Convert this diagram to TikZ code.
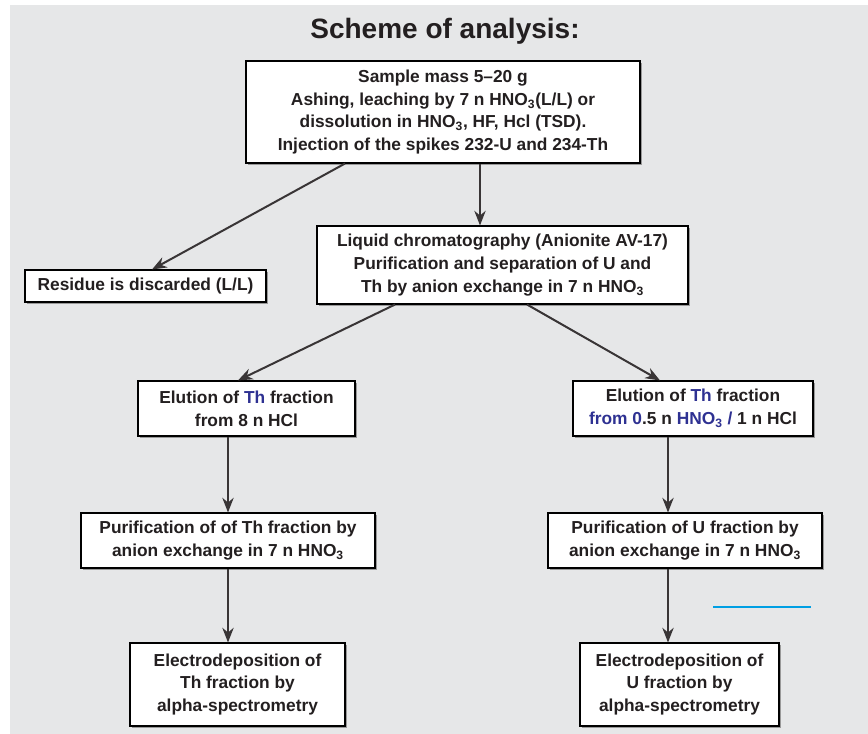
\documentclass[tikz,border=0pt]{standalone}
\usepackage{fontspec}
\setmainfont{Liberation Sans}
\usepackage{tikz}
\usetikzlibrary{arrows.meta,shadows}

\definecolor{bgGray}{HTML}{E6E7E8}
\definecolor{txtDark}{HTML}{231F20}
\definecolor{thBlue}{HTML}{2E3192}
\definecolor{lineBlue}{HTML}{009FE3}

\tikzset{
  box/.style={draw=black, line width=0.8pt, fill=white, inner sep=0pt, align=center,
    text=txtDark, font=\fontsize{13}{17}\selectfont\bfseries,
    drop shadow={shadow xshift=1.2pt, shadow yshift=-1.2pt, fill=gray!80, opacity=1}},
  arr/.style={draw=txtDark!90, line width=1.5pt, -{Stealth[length=11pt,width=8.5pt]}}
}
\newcommand{\thb}[1]{\textcolor{thBlue}{#1}}

\begin{document}
\begin{tikzpicture}[x=0.75pt,y=0.75pt,yscale=-1,xscale=1]
    \useasboundingbox (0,0) rectangle (868,734);
    %Shape: Rectangle (background)
    \fill [bgGray] (10,5) rectangle (868,734);

    % Text Node
    \node (title) at (445,31) [text=txtDark, font=\fontsize{21}{24}\selectfont\bfseries] {Scheme of analysis:};

    %Shape: Boxes
    \node (sample) at (443,112) [box, minimum width=295.5pt, minimum height=76.5pt]
      {Sample mass 5--20 g\\ Ashing, leaching by 7 n HNO\textsubscript{3}(L/L) or\\ dissolution in HNO\textsubscript{3}, HF, Hcl (TSD).\\ Injection of the spikes 232-U and 234-Th};
    \node (residue) at (145.5,286) [box, minimum width=180.75pt, minimum height=24pt]
      {Residue is discarded (L/L)};
    \node (chrom) at (502.5,265) [box, minimum width=278.25pt, minimum height=58.5pt]
      {Liquid chromatography (Anionite AV-17)\\ Purification and separation of U and\\ Th by anion exchange in 7 n HNO\textsubscript{3}};
    \node (elutL) at (246.5,408.5) [box, minimum width=162.75pt, minimum height=41.25pt]
      {Elution of \thb{Th} fraction\\ from 8 n HCl};
    \node (elutR) at (693,408.5) [box, minimum width=180pt, minimum height=41.25pt]
      {Elution of \thb{Th} fraction\\ \thb{from 0}.5 n \thb{HNO\textsubscript{3} /} 1 n HCl};
    \node (purL) at (228,540.5) [box, minimum width=220.5pt, minimum height=41.25pt]
      {Purification of of Th fraction by\\ anion exchange in 7 n HNO\textsubscript{3}};
    \node (purR) at (685,540.5) [box, minimum width=205.5pt, minimum height=41.25pt]
      {Purification of U fraction by\\ anion exchange in 7 n HNO\textsubscript{3}};
    \node (elecL) at (237.5,684.5) [box, minimum width=161.25pt, minimum height=62.25pt]
      {Electrodeposition of\\ Th fraction by\\ alpha-spectrometry};
    \node (elecR) at (679.5,684.5) [box, minimum width=149.25pt, minimum height=62.25pt]
      {Electrodeposition of\\ U fraction by\\ alpha-spectrometry};

    %Arrows
    \draw [arr] ([xshift=-73.5pt]sample.south) -- ([xshift=4.9pt]residue.north);
    \coordinate (sOut) at ([xshift=27.75pt]sample.south);
    \draw [arr] (sOut) -- (sOut |- chrom.north);
    \draw [arr] ([xshift=-80.6pt]chrom.south) -- ([xshift=-6.4pt]elutL.north);
    \draw [arr] ([xshift=18.4pt]chrom.south) -- ([xshift=-24.75pt]elutR.north);
    \draw [arr] (purL.north |- elutL.south) -- (purL.north);
    \coordinate (rCol) at ([xshift=-12.75pt]purR.north);
    \draw [arr] (rCol |- elutR.south) -- (rCol);
    \draw [arr] (purL.south) -- (purL.south |- elecL.north);
    \draw [arr] ([xshift=-12.75pt]purR.south) -- ([xshift=-12.75pt]purR.south |- elecR.north);

    %Shape: Line
    \draw [lineBlue, line width=1.2pt] (713,607) -- (811,607);

\end{tikzpicture}
\end{document}
